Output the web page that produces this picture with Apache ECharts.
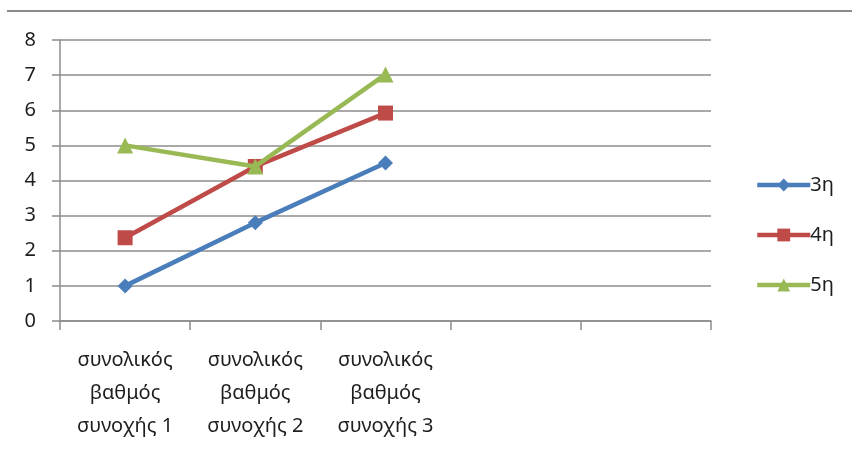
<!DOCTYPE html>
<html>
<head>
<meta charset="utf-8">
<script src="https://cdn.jsdelivr.net/npm/echarts@6/dist/echarts.min.js"></script>
<style>
  html, body { margin: 0; padding: 0; background: #fff; }
  #chart { width: 852px; height: 451px; }
</style>
</head>
<body>
<div id="chart"></div>
<script>
// Category slots on the x axis (the last two slots are empty)
const categories = [
  'συνολικός\nβαθμός\nσυνοχής 1',
  'συνολικός\nβαθμός\nσυνοχής 2',
  'συνολικός\nβαθμός\nσυνοχής 3',
  '',
  ''
];
const seriesNames = ['3η', '4η', '5η'];
const values3 = [1.0, 2.8, 4.5];
const values4 = [2.37, 4.4, 5.92];
const values5 = [5.0, 4.4, 7.02];
const yTicks = [0, 1, 2, 3, 4, 5, 6, 7, 8];

const colors = ['#4A7EBB', '#BE4B48', '#98B954'];
const symbols = ['diamond', 'rect', 'triangle'];
const symbolSizes = [15, 15, 16];
const gridColor = '#8C8C8C';
const textColor = '#1E1E1E';
const font = 'Noto Sans';
const fontSize = 20;

const chart = echarts.init(document.getElementById('chart'));

const series = [values3, values4, values5].map((vals, i) => ({
  name: seriesNames[i],
  type: 'line',
  data: vals,
  symbol: symbols[i],
  symbolSize: symbolSizes[i],
  showAllSymbol: true,
  lineStyle: { width: 4.5, color: colors[i] },
  itemStyle: { color: colors[i] },
  emphasis: { disabled: true },
  animation: false,
  z: 3 + i
}));

chart.setOption({
  animation: false,
  grid: { left: 60, right: 141, top: 40, bottom: 130, containLabel: false },
  graphic: [{
    type: 'line',
    shape: { x1: 7, y1: 11, x2: 852, y2: 11 },
    style: { stroke: '#8A8A8A', lineWidth: 2 }
  }],
  legend: {
    orient: 'vertical',
    left: 750,
    top: 170,
    itemWidth: 53,
    itemHeight: 16,
    itemGap: 30,
    data: seriesNames,
    lineStyle: { width: 4.5 },
    textStyle: { fontFamily: font, fontSize: fontSize, color: textColor, padding: [0, 0, 0, -5] }
  },
  xAxis: {
    type: 'category',
    data: categories,
    boundaryGap: true,
    axisLine: { show: true, lineStyle: { color: gridColor, width: 1.5 } },
    axisTick: { show: true, interval: 0, length: 9, lineStyle: { color: gridColor, width: 1.5 } },
    axisLabel: {
      interval: 0,
      margin: 23,
      fontFamily: font,
      fontSize: fontSize,
      lineHeight: 33,
      color: textColor,
      align: 'center'
    },
    splitLine: { show: false }
  },
  yAxis: {
    type: 'value',
    min: yTicks[0],
    max: yTicks[yTicks.length - 1],
    interval: 1,
    axisLine: { show: true, lineStyle: { color: gridColor, width: 1.5 } },
    axisTick: { show: true, length: 8, lineStyle: { color: gridColor, width: 1.5 } },
    axisLabel: {
      margin: 24,
      fontFamily: font,
      fontSize: fontSize,
      color: textColor
    },
    splitLine: { show: true, lineStyle: { color: gridColor, width: 1.5 } }
  },
  series: series
});
</script>
</body>
</html>
